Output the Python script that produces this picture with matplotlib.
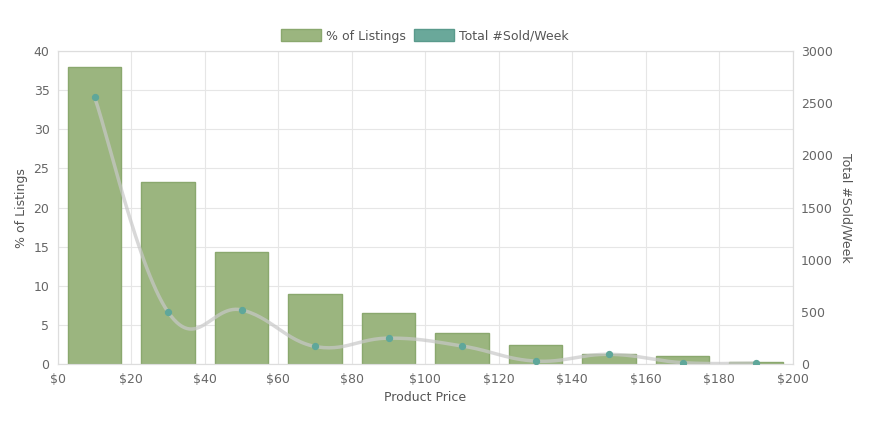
import numpy as np
import matplotlib
matplotlib.use("Agg")
import matplotlib.pyplot as plt

price_mid = [10, 30, 50, 70, 90, 110, 130, 150, 170, 190]
pct_listings = [38.0, 23.3, 14.3, 9.0, 6.6, 4.0, 2.5, 1.3, 1.0, 0.3]
sold_week = [2560, 500, 520, 170, 250, 175, 30, 95, 15, 10]
xticks = list(range(0, 201, 20))
xtick_labels = [f"${v}" for v in xticks]

bar_color = "#9bb57f"
bar_edge = "#8aa86e"
point_color = "#5fa79a"


def smooth(xs, ys, tension=0.4, n=30):
    # Chart.js-style cubic bezier through points
    xs = np.asarray(xs, float)
    ys = np.asarray(ys, float)
    ox, oy = [], []
    for i in range(len(xs) - 1):
        p0 = (xs[max(i - 1, 0)], ys[max(i - 1, 0)])
        p1 = (xs[i], ys[i])
        p2 = (xs[i + 1], ys[i + 1])
        p3 = (xs[min(i + 2, len(xs) - 1)], ys[min(i + 2, len(xs) - 1)])
        c1 = (p1[0] + (p2[0] - p0[0]) * tension / 2, p1[1] + (p2[1] - p0[1]) * tension / 2)
        c2 = (p2[0] - (p3[0] - p1[0]) * tension / 2, p2[1] - (p3[1] - p1[1]) * tension / 2)
        t = np.linspace(0, 1, n)
        bx = (1 - t) ** 3 * p1[0] + 3 * (1 - t) ** 2 * t * c1[0] + 3 * (1 - t) * t ** 2 * c2[0] + t ** 3 * p2[0]
        by = (1 - t) ** 3 * p1[1] + 3 * (1 - t) ** 2 * t * c1[1] + 3 * (1 - t) * t ** 2 * c2[1] + t ** 3 * p2[1]
        ox.extend(bx)
        oy.extend(by)
    return np.array(ox), np.array(oy)


fig = plt.figure(figsize=(8.76, 4.29), dpi=100)
ax = fig.add_axes([0.066, 0.151, 0.839, 0.730])
ax2 = ax.twinx()

ax.bar(price_mid, pct_listings, width=14.5, color=bar_color, edgecolor=bar_edge,
       linewidth=1, label="% of Listings", zorder=2)
ax.set_xlim(0, 200)
ax.set_ylim(0, 40)
ax.set_xticks(xticks)
ax.set_xticklabels(xtick_labels)
ax.set_yticks(range(0, 41, 5))
ax.grid(True, color="#e6e6e6", linewidth=0.8, zorder=0)
ax.set_axisbelow(True)

sx, sy = smooth(price_mid, sold_week)
ax2.plot(sx, sy, color="#c8c8c8", alpha=0.7, linewidth=2.5, zorder=3)
ax2.scatter(price_mid, sold_week, s=18, color=point_color, zorder=4)
ax2.set_ylim(0, 3000)
ax2.set_yticks(range(0, 3001, 500))

for a in (ax, ax2):
    for s in a.spines.values():
        s.set_color("#dddddd")
    a.tick_params(colors="#666666", labelsize=9, length=0, pad=6)

ax.set_xlabel("Product Price", color="#555555", fontsize=9)
ax.set_ylabel("% of Listings", color="#555555", fontsize=9)
ax2.set_ylabel("Total #Sold/Week", color="#555555", fontsize=9, rotation=270, labelpad=14)

from matplotlib.patches import Patch
handles = [Patch(facecolor=bar_color, edgecolor=bar_edge, label="% of Listings"),
           Patch(facecolor="#6aa89a", edgecolor="#5a9a8c", label="Total #Sold/Week")]
leg = fig.legend(handles=handles, loc="center", bbox_to_anchor=(0.485, 0.916), ncol=2,
                 frameon=False, fontsize=9, handlelength=3.2, handleheight=1.1,
                 columnspacing=0.6, handletextpad=0.4)
for t in leg.get_texts():
    t.set_color("#555555")

fig.savefig("out.png", dpi=100)
